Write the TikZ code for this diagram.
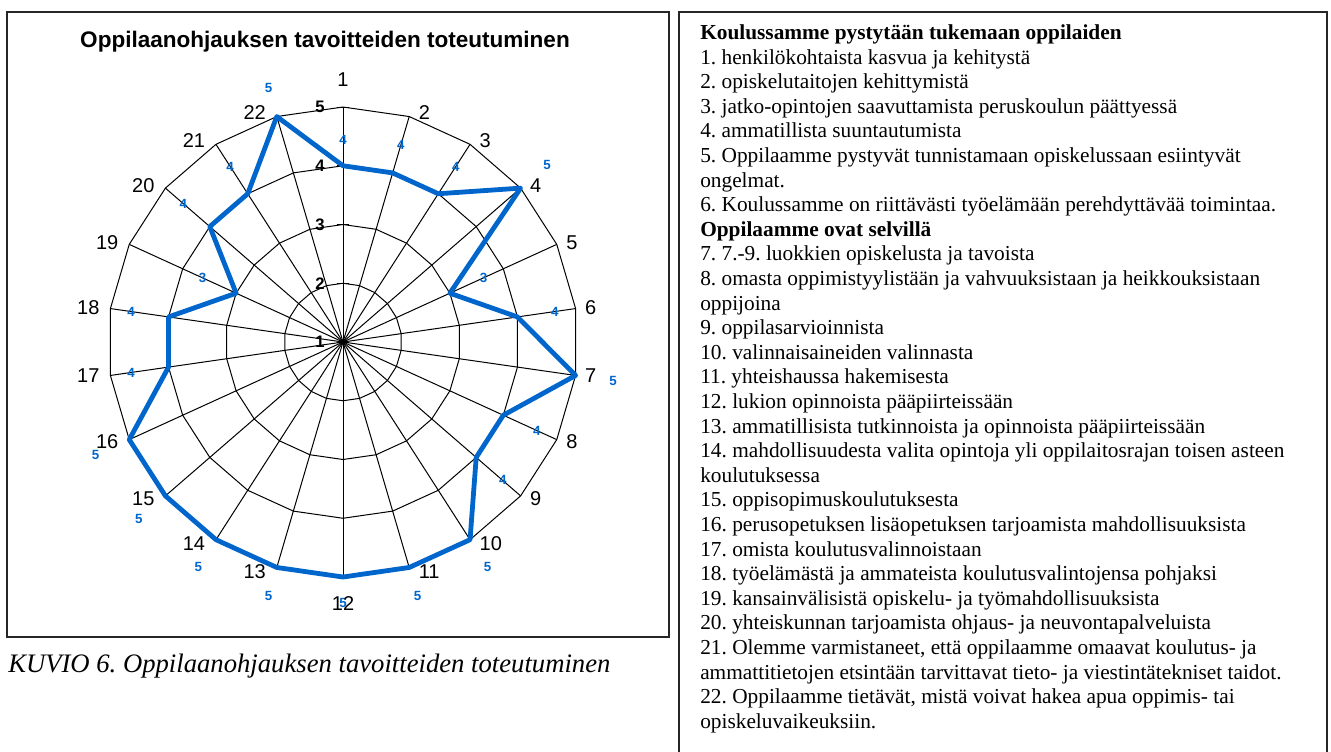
\documentclass[tikz,border=0pt]{standalone}
\usepackage{fontspec}
\setmainfont{Liberation Serif}
\newfontfamily\chartfont{Liberation Sans}
\usepackage{tikz}
\usetikzlibrary{calc, positioning}
\definecolor{chartblue}{RGB}{0,102,204}
\frenchspacing

\begin{document}
\begin{tikzpicture}[x=0.75pt, y=0.75pt, gridline/.style={draw=black, line width=0.75pt}, dataline/.style={draw=chartblue, line width=3.6pt, line join=round}]
    % Define styles for frames, labels and texts
    \tikzstyle{frame} = [draw=black!85, line width=1.5pt]
    \tikzstyle{spokelabel} = [font=\chartfont\fontsize{15}{15}\selectfont, inner sep=0pt]
    \tikzstyle{valuelabel} = [font=\chartfont\bfseries\fontsize{12.5}{12.5}\selectfont, inner sep=0pt]
    \tikzstyle{datalabel} = [font=\chartfont\bfseries\fontsize{10}{10}\selectfont, text=chartblue, inner sep=0pt]

    \useasboundingbox (0,0) rectangle (1331,-751);

    % Frames
    \draw[frame] (7,-12) rectangle (669,-637);
    \draw[frame] (679,-760) |- (1327,-12) -- (1327,-760);

    % Title and caption
    \node[font=\chartfont\bfseries\fontsize{16.9}{16.9}\selectfont] (charttitle) at (325,-42) {Oppilaanohjauksen tavoitteiden toteutuminen};
    \node[anchor=base west, inner sep=0pt, font=\itshape\fontsize{20}{20}\selectfont] (caption) at (8,-672) {KUVIO 6. Oppilaanohjauksen tavoitteiden toteutuminen};

    % Radar chart
    \begin{scope}[shift={(343,-342)}]
        % Spokes and rings
        \foreach \k in {1,...,22}
            \draw[gridline] (0,0) -- ({90-(\k-1)*360/22}:235);
        \foreach \v in {2,...,5}
            \draw[gridline] (90:{(\v-1)*58.75}) \foreach \k in {2,...,22} {-- ({90-(\k-1)*360/22}:{(\v-1)*58.75})} -- cycle;

        % Value axis ticks and labels
        \foreach \v in {1,...,5} {
            \draw[gridline] (-6,{(\v-1)*58.75}) -- (6,{(\v-1)*58.75});
            \node[valuelabel] (axis\v) at (-23,{(\v-1)*58.75}) {\v};
        }

        % Data polygon
        \foreach \v [count=\k] in {4,4,4,5,3,4,5,4,4,5,5,5,5,5,5,5,4,4,3,4,4,5}
            \coordinate (p\k) at ({90-(\k-1)*360/22}:{(\v-1)*58.75});
        \draw[dataline] (p1) \foreach \k in {2,...,22} {-- (p\k)} -- cycle;

        % Data labels
        \foreach \v [count=\k] in {4,4,4,5,3,4,5,4,4,5,5,5,5,5,5,5,4,4,3,4,4,5}
            \node[datalabel] (d\k) at ({90-(\k-1)*360/22}:{(\v-1)*58.75+26+12*abs(cos(90-(\k-1)*360/22))}) {\v};

        % Spoke labels
        \node[spokelabel, anchor=south] (s1) at (90:255) {1};
        \node[spokelabel, anchor=north] (s12) at (-90:254) {12};
        \foreach \k in {2,...,11}
            \node[spokelabel, anchor=west, xshift=7pt, yshift={3.4*sin(90-(\k-1)*360/22)}] (s\k) at ({90-(\k-1)*360/22}:235) {\k};
        \foreach \k in {13,...,22}
            \node[spokelabel, anchor=east, xshift=-8pt, yshift={3.4*sin(90-(\k-1)*360/22)}] (s\k) at ({90-(\k-1)*360/22}:235) {\k};
    \end{scope}

    % List of goals
    \node[anchor=north west, inner sep=0pt, align=left, font=\fontsize{16}{18.45}\selectfont] (goallist) at (700,-24.5) {\textbf{Koulussamme pystytään tukemaan oppilaiden}\\
        1. henkilökohtaista kasvua ja kehitystä\\
        2. opiskelutaitojen kehittymistä\\
        3. jatko-opintojen saavuttamista peruskoulun päättyessä\\
        4. ammatillista suuntautumista\\
        5. Oppilaamme pystyvät tunnistamaan opiskelussaan esiintyvät\\
        ongelmat.\\
        6. Koulussamme on riittävästi työelämään perehdyttävää toimintaa.\\
        \textbf{Oppilaamme ovat selvillä}\\
        7. 7.-9. luokkien opiskelusta ja tavoista\\
        8. omasta oppimistyylistään ja vahvuuksistaan ja heikkouksistaan\\
        oppijoina\\
        9. oppilasarvioinnista\\
        10. valinnaisaineiden valinnasta\\
        11. yhteishaussa hakemisesta\\
        12. lukion opinnoista pääpiirteissään\\
        13. ammatillisista tutkinnoista ja opinnoista pääpiirteissään\\
        14. mahdollisuudesta valita opintoja yli oppilaitosrajan toisen asteen\\
        koulutuksessa\\
        15. oppisopimuskoulutuksesta\\
        16. perusopetuksen lisäopetuksen tarjoamista mahdollisuuksista\\
        17. omista koulutusvalinnoistaan\\
        18. työelämästä ja ammateista koulutusvalintojensa pohjaksi\\
        19. kansainvälisistä opiskelu- ja työmahdollisuuksista\\
        20. yhteiskunnan tarjoamista ohjaus- ja neuvontapalveluista\\
        21. Olemme varmistaneet, että oppilaamme omaavat koulutus- ja\\
        ammattitietojen etsintään tarvittavat tieto- ja viestintätekniset taidot.\\
        22. Oppilaamme tietävät, mistä voivat hakea apua oppimis- tai\\
        opiskeluvaikeuksiin.};
\end{tikzpicture}
\end{document}
